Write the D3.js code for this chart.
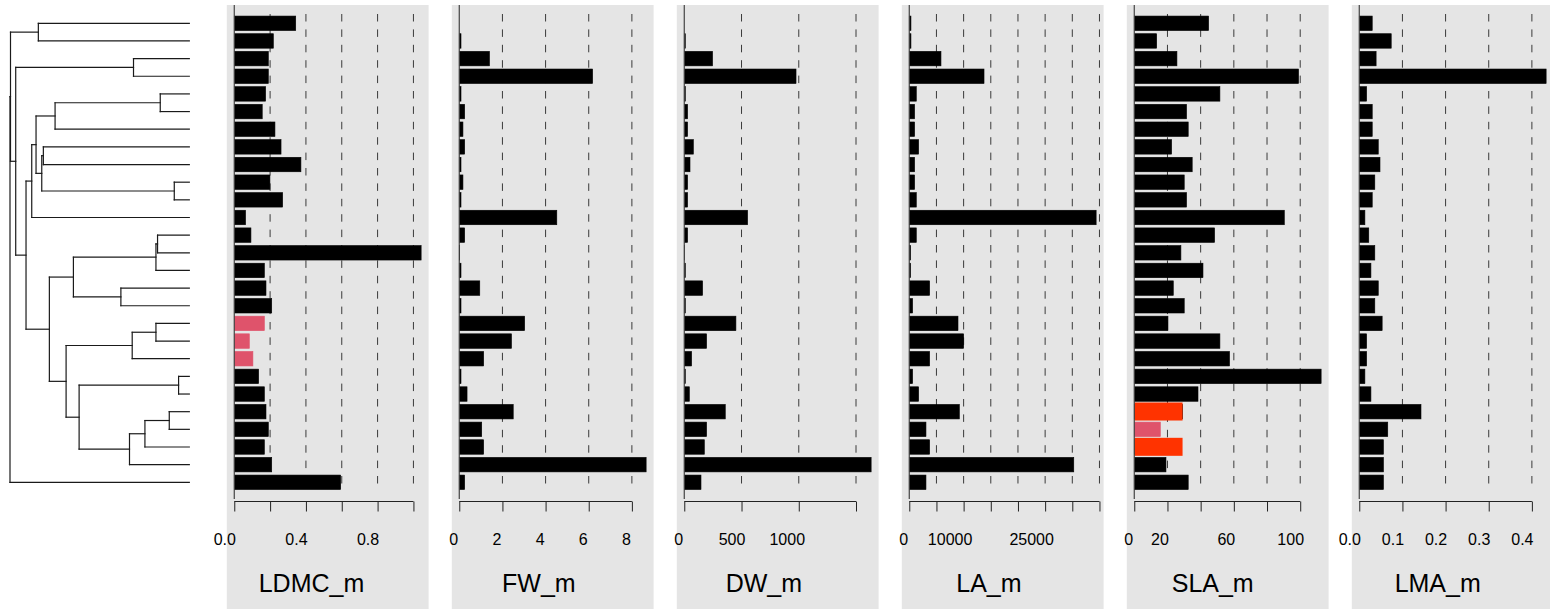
<!DOCTYPE html>
<html><head><meta charset="utf-8">
<script src="https://cdn.jsdelivr.net/npm/d3@7"></script>
<style>
html,body{margin:0;padding:0;background:#fff;}
svg{display:block;font-family:"Liberation Sans",Arial,Helvetica,sans-serif;}
</style>
</head><body>
<svg id="chart" width="1550" height="609"></svg>
<script>
// ---------------- DATA ----------------
const treeNewick = "(((t1:150.7,t2:150.7):27.8,((t3:55.7,t4:55.7):117.6,(((((t5:29,t6:29):105,t7:134):19,((t8:145.7,t9:145.7):1.6,(t10:15,t11:15):132.3):5.7):4.3,t12:157.3):5.7,((((t13:31.7,t14:31.7):1.6,t15:33.3):82.4,(t16:68.3,t17:68.3):47.4):24,(((t18:33.3,t19:33.3):23.7,t20:57):66,((t21:10.7,t22:10.7):99.3,(((t23:20,t24:20):24.3,t25:44.3):15.4,t26:59.7):50.3):13):16.7):23.3):10.3):5.2):0.5,t27:179);";

const tipNames = ["t1","t2","t3","t4","t5","t6","t7","t8","t9","t10","t11","t12","t13","t14","t15","t16","t17","t18","t19","t20","t21","t22","t23","t24","t25","t26","t27"];

const traitNames = ["LDMC_m","FW_m","DW_m","LA_m","SLA_m","LMA_m"];

const ldmc = [0.343,0.218,0.190,0.190,0.175,0.156,0.227,0.261,0.372,0.199,0.270,0.063,0.093,1.043,0.168,0.177,0.209,0.168,0.084,0.104,0.136,0.168,0.177,0.190,0.168,0.209,0.594];
const fw   = [0,0.08,1.40,6.18,0.08,0.25,0.17,0.25,0.08,0.17,0.08,4.52,0.25,0.02,0.08,0.95,0.08,3.03,2.42,1.13,0.08,0.36,2.50,1.04,1.13,8.66,0.25];
const dw   = [0,9,247,976,9,29,29,79,50,29,29,553,29,2,9,160,9,451,195,64,9,44,358,195,175,1632,146];
const la   = [307,307,5833,13754,1289,982,982,1719,982,982,1289,34385,1289,246,246,3746,614,8965,10009,3746,614,1719,9210,3070,3746,30271,3070];
const sla  = [44.8,13.5,25.7,99.0,51.6,31.5,32.5,22.5,34.9,30.1,31.5,90.4,48.4,28.1,41.4,23.5,30.1,20.3,51.6,57.4,112.6,38.4,29.1,15.7,25.1,19.1,32.5];
const lma  = [0.030,0.074,0.039,0.433,0.017,0.030,0.030,0.044,0.048,0.036,0.030,0.013,0.022,0.036,0.027,0.044,0.036,0.053,0.017,0.017,0.013,0.027,0.143,0.066,0.056,0.056,0.056];

const ldmcPinkTips = [18,19,20];
const slaPinkTips = [24];
const slaRedTips = [23,25];
const slaRedValues = [29.1,29.1];

const ldmcTicks = [0,0.2,0.4,0.6,0.8,1.0];
const ldmcTickLabels = ["0.0","","0.4","","0.8",""];
const fwTicks = [0,2,4,6,8];
const fwTickLabels = ["0","2","4","6","8"];
const dwTicks = [0,500,1000,1500];
const dwTickLabels = ["0","500","1000",""];
const laTicks = [0,5000,10000,15000,20000,25000,30000,35000];
const laTickLabels = ["0","","10000","","","25000","",""];
const slaTicks = [0,20,40,60,80,100];
const slaTickLabels = ["0","20","","60","","100"];
const lmaTicks = [0,0.1,0.2,0.3,0.4];
const lmaTickLabels = ["0.0","0.1","0.2","0.3","0.4"];

// ---------------- HELPERS ----------------
function parseNewick(s){
  const tokens = s.split(/\s*(;|\(|\)|,|:)\s*/);
  const stack = [];
  let tree = {};
  for (let i = 0; i < tokens.length; i++){
    const t = tokens[i];
    switch (t){
      case "(": { const sub = {}; tree.children = [sub]; stack.push(tree); tree = sub; break; }
      case ",": { const sib = {}; stack[stack.length-1].children.push(sib); tree = sib; break; }
      case ")": tree = stack.pop(); break;
      case ":": break;
      default: {
        const p = tokens[i-1];
        if (p === ":") tree.length = parseFloat(t);
        else if (t !== "" && t !== ";") tree.name = t;
      }
    }
  }
  return tree;
}

// ---------------- LAYOUT ----------------
const svg = d3.select("#chart");
const nTips = tipNames.length;
const yScale = d3.scaleLinear().domain([1, nTips]).range([23.3, 482.3]);
const step = yScale(2) - yScale(1);

// ---------------- TREE ----------------
const root = d3.hierarchy(parseNewick(treeNewick), d => d.children);
root.each(d => { d.len = d.parent ? d.parent.len + (d.data.length || 0) : 0; });
const maxLen = d3.max(root.leaves(), d => d.len);
const treeX = d3.scaleLinear().domain([0, maxLen]).range([10, 189.3]);
root.leaves().forEach(l => { l.yy = yScale(tipNames.indexOf(l.data.name) + 1); });
root.eachAfter(d => { if (d.children) d.yy = (d.children[0].yy + d.children[d.children.length-1].yy) / 2; });

const gTree = svg.append("g").attr("stroke", "#1a1a1a").attr("stroke-width", 1.2).attr("fill", "none").attr("stroke-linecap", "square");
gTree.selectAll("line.h").data(root.descendants().filter(d => d.parent)).enter().append("line")
  .attr("x1", d => treeX(d.parent.len)).attr("x2", d => treeX(d.len))
  .attr("y1", d => d.yy).attr("y2", d => d.yy);
gTree.selectAll("line.v").data(root.descendants().filter(d => d.children)).enter().append("line")
  .attr("x1", d => treeX(d.len)).attr("x2", d => treeX(d.len))
  .attr("y1", d => d.children[0].yy).attr("y2", d => d.children[d.children.length-1].yy);

// ---------------- PANELS ----------------
const panels = [
  {name: traitNames[0], values: ldmc, ticks: ldmcTicks, labels: ldmcTickLabels, pink: ldmcPinkTips},
  {name: traitNames[1], values: fw,   ticks: fwTicks,   labels: fwTickLabels,   pink: []},
  {name: traitNames[2], values: dw,   ticks: dwTicks,   labels: dwTickLabels,   pink: []},
  {name: traitNames[3], values: la,   ticks: laTicks,   labels: laTickLabels,   pink: []},
  {name: traitNames[4], values: sla,  ticks: slaTicks,  labels: slaTickLabels,  pink: slaPinkTips},
  {name: traitNames[5], values: lma,  ticks: lmaTicks,  labels: lmaTickLabels,  pink: []}
];

const panelLeft0 = 226.8, panelStep = 225, panelWidth = 201.8;
const panelTop = 5, panelBottom = 609;
const axisY = 501.5;
const barH = step * 0.82;
const PINK = "#DF536B", RED = "#FF3300";

panels.forEach((p, k) => {
  const L = panelLeft0 + k * panelStep;
  const M = d3.max(p.values);
  const x = d3.scaleLinear().domain([-0.04 * M, 1.04 * M]).range([L, L + panelWidth]);
  const g = svg.append("g");

  g.append("rect").attr("x", L).attr("y", panelTop).attr("width", panelWidth)
    .attr("height", panelBottom - panelTop).attr("fill", "#E5E5E5");

  // dashed grid lines
  g.selectAll("line.grid").data(p.ticks.filter(t => t > 0)).enter().append("line")
    .attr("x1", d => x(d)).attr("x2", d => x(d)).attr("y1", 14).attr("y2", 490)
    .attr("stroke", "#3a3a3a").attr("stroke-width", 1).attr("stroke-dasharray", "7.5 7.9");

  // bars
  g.selectAll("rect.bar").data(p.values.map((v, i) => ({v, tip: i + 1}))).enter().append("rect")
    .attr("x", x(0)).attr("y", d => yScale(d.tip) - barH / 2)
    .attr("width", d => Math.max(0, x(d.v) - x(0))).attr("height", barH)
    .attr("fill", d => p.pink.includes(d.tip) ? PINK : "#000")
    .attr("stroke", d => p.pink.includes(d.tip) ? PINK : "#000")
    .attr("stroke-width", 0.6);

  if (p.name === "SLA_m") {
    g.selectAll("rect.red").data(slaRedTips.map((t, i) => ({tip: t, v: slaRedValues[i]}))).enter().append("rect")
      .attr("x", x(0)).attr("y", d => yScale(d.tip) - step * 0.52)
      .attr("width", d => x(d.v) - x(0)).attr("height", step * 1.02)
      .attr("fill", RED);
  }

  // zero line
  g.append("line").attr("x1", x(0)).attr("x2", x(0)).attr("y1", panelTop).attr("y2", 499)
    .attr("stroke", "#444").attr("stroke-width", 1.2);

  // bottom axis
  const axis = d3.axisBottom(x).tickValues(p.ticks).tickSize(10).tickSizeOuter(0)
    .tickFormat((d, i) => p.labels[i]);
  const ga = g.append("g").attr("transform", `translate(0,${axisY})`).call(axis);
  ga.select(".domain").remove();
  ga.append("line").attr("x1", x(0)).attr("x2", x(p.ticks[p.ticks.length-1]))
    .attr("y1", 0).attr("y2", 0).attr("stroke", "#222").attr("stroke-width", 1);
  ga.selectAll(".tick line").attr("stroke", "#222").attr("stroke-width", 1);
  ga.selectAll(".tick text")
    .attr("y", 43.5).attr("dy", 0)
    .attr("dx", function(){ const n = this.textContent.length; return -(4 + 2 * n); })
    .attr("font-size", 16).attr("fill", "#000")
    .attr("font-family", "'Liberation Sans', Arial, Helvetica, sans-serif");

  // title
  g.append("text").attr("x", L + panelWidth / 2 - (9 + 1.2 * p.name.length)).attr("y", 591.5)
    .attr("text-anchor", "middle").attr("font-size", 25).attr("fill", "#000").text(p.name);
});
</script>
</body></html>
